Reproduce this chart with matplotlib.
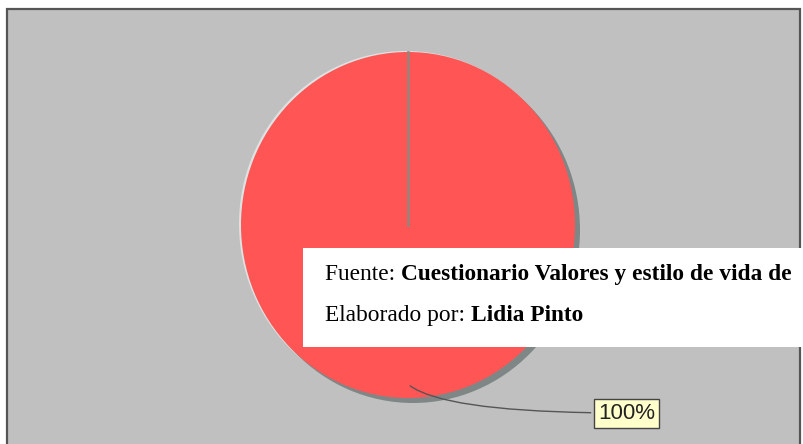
import matplotlib

matplotlib.use("Agg")
import matplotlib.pyplot as plt
from matplotlib.patches import Rectangle, Wedge
from matplotlib.transforms import ScaledTranslation

# data: one category holds the whole pie
values = [100]
labels = ["100%"]
colors = ["#ff5555"]

source_label = "Fuente: "
source_text = "Cuestionario Valores y estilo de vida de"
author_label = "Elaborado por: "
author_text = "Lidia Pinto"

W, H = 804, 444
fig = plt.figure(figsize=(W / 100, H / 100), dpi=100)

# background panel, pixel coordinates
bg = fig.add_axes([0, 0, 1, 1], zorder=0)
bg.set_xlim(0, W)
bg.set_ylim(H, 0)
bg.axis("off")
bg.add_patch(Rectangle((7, 9), 793, 440, facecolor="#c0c0c0", edgecolor="#555555", lw=1.6))

# pie axes spans the pie's box (slightly taller than wide, as in the picture)
pl, pr, pt, pb = 241, 575, 52, 398
pie_ax = fig.add_axes([pl / W, (H - pb) / H, (pr - pl) / W, (pb - pt) / H], zorder=1)
wedges, _ = pie_ax.pie(values, colors=colors, startangle=90, radius=1, frame=True,
                       wedgeprops=dict(linewidth=0))
pie_ax.set_aspect("auto")
pie_ax.set_xlim(-1, 1)
pie_ax.set_ylim(-1, 1)
pie_ax.axis("off")


def offset_copy(w, dx_px, dy_px, color, z):
    tr = pie_ax.transData + ScaledTranslation(dx_px / 100, dy_px / 100, fig.dpi_scale_trans)
    p = Wedge(w.center, w.r, w.theta1, w.theta2, facecolor=color, edgecolor="none",
              transform=tr, zorder=z, clip_on=False)
    pie_ax.add_patch(p)
    p.set_transform(tr)
    return p


for w in wedges:
    w.set_zorder(3)
    offset_copy(w, -2, 1, "#dde2e2", 1)
    offset_copy(w, 5, -5, "#7f8686", 2)
    # slice boundary from the centre to the start angle
    cx, cy = w.center
    pie_ax.plot([cx, cx], [cy, cy + w.r], color="#8a8a80", lw=2, alpha=0.85,
                zorder=4, clip_on=False)

# leader line and label box
fg = fig.add_axes([0, 0, 1, 1], zorder=2)
fg.set_xlim(0, W)
fg.set_ylim(H, 0)
fg.axis("off")

w = wedges[0]
cx, cy = w.center
pie_ax.annotate(labels[0], xy=(cx, cy - 0.92 * w.r), xycoords="data",
                xytext=(598, 413), textcoords=fg.transData,
                ha="left", va="center", fontsize=16, family="Liberation Sans",
                color="#222222", annotation_clip=False, zorder=5,
                bbox=dict(boxstyle="square,pad=0.18", fc="#ffffcc", ec="#444444", lw=1),
                arrowprops=dict(arrowstyle="-", color="#555555", lw=1,
                                connectionstyle="angle3,angleA=0,angleB=-40"))

# source note on a white box
fg.add_patch(Rectangle((303, 248), 510, 99, facecolor="white", edgecolor="none", zorder=1))
serif = "Liberation Serif"
fs = 16.8
t1 = fg.text(325, 280, source_label, fontsize=fs, family=serif, va="baseline", zorder=2)
fg.annotate(source_text, xy=(1, 0), xycoords=t1, va="bottom", ha="left",
            fontsize=fs, family=serif, weight="bold", zorder=2)
t2 = fg.text(325, 321, author_label, fontsize=fs, family=serif, va="baseline", zorder=2)
fg.annotate(author_text, xy=(1, 0), xycoords=t2, va="bottom", ha="left",
            fontsize=fs, family=serif, weight="bold", zorder=2)

fig.savefig("out.png", dpi=100)
